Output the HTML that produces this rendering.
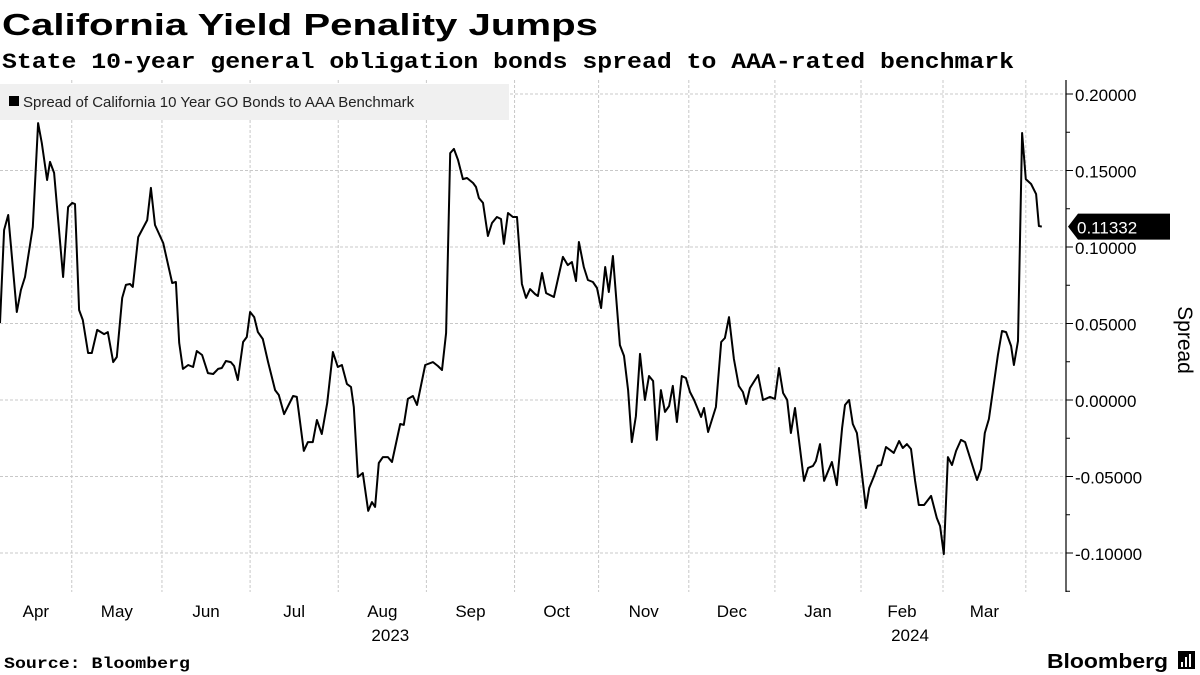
<!DOCTYPE html>
<html><head><meta charset="utf-8">
<style>
html,body{margin:0;padding:0;background:#fff;}
svg{display:block;}
</style></head>
<body>
<svg id="chart" width="1200" height="675" viewBox="0 0 1200 675" xmlns="http://www.w3.org/2000/svg">
  <text x="2" y="35" font-family="Liberation Sans, sans-serif" font-weight="bold" font-size="31" textLength="596" lengthAdjust="spacingAndGlyphs" fill="#000">California Yield Penality Jumps</text>
  <text x="2" y="68" font-family="Liberation Mono, monospace" font-weight="bold" font-size="22" textLength="1012" lengthAdjust="spacingAndGlyphs" fill="#000">State 10-year general obligation bonds spread to AAA-rated benchmark</text>
  <g id="grid"></g>
  <g id="axis"></g>
  <g id="xaxis"></g>
  <rect x="0" y="84" width="509" height="36" fill="#f0f0f0"/>
  <g>
    <rect x="9" y="96" width="10" height="10" fill="#000"/>
    <text x="23" y="107" font-family="Liberation Sans, sans-serif" font-size="15" fill="#222">Spread of California 10 Year GO Bonds to AAA Benchmark</text>
  </g>
  <g id="series"></g>
  <text transform="translate(1178,340) rotate(90)" text-anchor="middle" font-family="Liberation Sans, sans-serif" font-size="21" fill="#000">Spread</text>
  <text x="4" y="668" font-family="Liberation Mono, monospace" font-weight="bold" font-size="16" textLength="186" lengthAdjust="spacingAndGlyphs" fill="#000">Source: Bloomberg</text>
  <text x="1047" y="668" font-family="Liberation Sans, sans-serif" font-weight="bold" font-size="20" textLength="121" lengthAdjust="spacingAndGlyphs" fill="#000">Bloomberg</text>
  <g>
    <rect x="1178" y="651" width="17" height="18" fill="#000"/>
    <rect x="1181" y="662" width="2" height="5" fill="#fff"/>
    <rect x="1185" y="657" width="2" height="10" fill="#fff"/>
    <rect x="1189" y="654" width="2" height="13" fill="#fff"/>
  </g>
</svg>
<script>
// ---- data ----
const tradingDay = [0,1,2,4.1,5.1,6.1,8,9.3,10.2,11.5,12.2,13.2,15.4,16.6,17.6,18.3,19.3,20.2,21.5,22.4,23.7,25.4,26.3,27.6,28.5,29.8,30.7,31.7,32.4,33.7,35.9,36.8,37.8,39.8,42,42.9,43.7,44.6,45.9,47.1,48,49.3,50.7,52,53.2,54.1,55.1,56.3,57.1,58,59.3,60.2,61,62,62.9,64.1,65.4,67.1,68,69.3,71.5,72.4,74.1,75.1,76.3,77.3,78.5,79.8,81.2,82.4,83.4,84.6,85.6,86.3,87.3,88.5,89.8,90.7,91.5,92.4,93.4,94.6,95.6,97.6,98.5,99.5,100.7,101.7,103.7,105.6,106.8,107.8,108.8,109.8,110.7,111.7,112.9,113.9,115.4,116.1,116.8,117.8,119,120,121.2,122.2,122.9,123.9,125.1,126.1,127.3,128.3,129.3,130.5,131.2,132.2,133.2,135.1,137.3,138.5,139.5,140.5,141.2,142.4,143.4,144.6,145.6,146.6,147.6,148.5,149.5,151.2,152.2,153.2,154.1,155.1,156.1,157.3,158.3,159.3,160.2,161.2,162.2,163.2,164.1,165.1,166.3,167.3,168.3,169.3,171,171.7,172.7,174.6,175.9,176.8,177.8,179,180.2,181.2,182,182.9,184.9,186.1,187.8,189,190,191,192,192.9,193.9,196.1,197.1,198.3,199,200,201,202.9,204.1,205.4,206.1,207.1,208,209,210,211.2,212,213.2,214.1,214.9,216.1,218,219.3,220.2,221.2,222.2,223.2,224.1,225.4,227.1,228.5,229.3,230.2,231.2,232.2,233.2,234.4,235.4,238.3,239.3,240.2,241.2,243.4,244.4,245.4,246.6,247.3,248.3,249.3,250.2,251.5,252.7,253.4,254.1];
const spreadValues = [0.0503,0.1111,0.1209,0.0575,0.0719,0.0804,0.1131,0.1810,0.1680,0.1438,0.1556,0.1484,0.0804,0.1261,0.1288,0.1281,0.0588,0.0523,0.0307,0.0307,0.0458,0.0431,0.0444,0.0248,0.0281,0.0667,0.0752,0.0758,0.0739,0.1065,0.1176,0.1386,0.1144,0.1026,0.0765,0.0771,0.0373,0.0203,0.0229,0.0216,0.0320,0.0294,0.0176,0.0170,0.0203,0.0209,0.0255,0.0248,0.0222,0.0131,0.0379,0.0412,0.0575,0.0542,0.0444,0.0399,0.0248,0.0065,0.0033,-0.0092,0.0026,0.0020,-0.0333,-0.0275,-0.0275,-0.0131,-0.0222,-0.0020,0.0314,0.0216,0.0229,0.0105,0.0085,-0.0046,-0.0503,-0.0477,-0.0725,-0.0667,-0.0699,-0.0412,-0.0373,-0.0373,-0.0405,-0.0157,-0.0163,0.0007,0.0026,-0.0033,0.0229,0.0248,0.0222,0.0196,0.0438,0.1614,0.1641,0.1569,0.1444,0.1451,0.1418,0.1392,0.1320,0.1288,0.1072,0.1157,0.1196,0.1183,0.1020,0.1222,0.1196,0.1196,0.0758,0.0667,0.0725,0.0693,0.0680,0.0830,0.0699,0.0673,0.0935,0.0882,0.0902,0.0778,0.1033,0.0869,0.0784,0.0771,0.0732,0.0601,0.0869,0.0706,0.0941,0.0359,0.0288,0.0065,-0.0275,-0.0105,0.0301,0,0.0157,0.0124,-0.0261,0.0065,-0.0078,-0.0039,0.0092,-0.0144,0.0157,0.0144,0.0052,0,-0.0111,-0.0052,-0.0209,-0.0046,0.0379,0.0405,0.0542,0.0268,0.0092,0.0052,-0.0026,0.0078,0.0163,0,0.0020,0.0007,0.0209,0.0046,0,-0.0216,-0.0052,-0.0529,-0.0444,-0.0431,-0.0399,-0.0288,-0.0529,-0.0405,-0.0556,-0.0183,-0.0033,0,-0.0157,-0.0216,-0.0431,-0.0706,-0.0575,-0.0497,-0.0431,-0.0425,-0.0307,-0.0346,-0.0268,-0.0314,-0.0288,-0.0320,-0.0529,-0.0686,-0.0686,-0.0627,-0.0771,-0.0824,-0.1007,-0.0373,-0.0425,-0.0333,-0.0261,-0.0275,-0.0523,-0.0451,-0.0216,-0.0124,0.0294,0.0451,0.0444,0.0353,0.0229,0.0386,0.1745,0.1444,0.1412,0.1346,0.1137,0.11332];
const yTicks = [0.20,0.15,0.10,0.05,0.00,-0.05,-0.10];
const yTickLabels = ["0.20000","0.15000","0.10000","0.05000","0.00000","-0.05000","-0.10000"];
const yMinorTicks = [0.175,0.125,0.075,0.025,-0.025,-0.075,-0.125];
const monthStartDay = [17.5,39.5,61,82.5,104,125.5,146,168,189,210,230,250.2];
const monthLabels = ["Apr","May","Jun","Jul","Aug","Sep","Oct","Nov","Dec","Jan","Feb","Mar"];
const yearLabels = ["2023","2024"];
const yearMonthIndex = [4,10];
const lastLabel = "0.11332";

// ---- scales ----
const NS = "http://www.w3.org/2000/svg";
const AXIS_X = 1066, TOP = 80, BOTTOM = 592;
function xScale(d){ return d * 4.1; }
function yScale(v){ return 400 - v * 1530; }
function mk(tag, attrs, parent){
  const e = document.createElementNS(NS, tag);
  for (const k in attrs) e.setAttribute(k, attrs[k]);
  parent.appendChild(e);
  return e;
}
const grid = document.getElementById('grid');
const axis = document.getElementById('axis');
const xaxis = document.getElementById('xaxis');
const series = document.getElementById('series');

yTicks.forEach((t,i)=>{
  const y = yScale(t);
  const gl = mk('line',{x1:0,x2:AXIS_X,y1:y,y2:y,stroke:'#c8c8c8','stroke-width':1,'stroke-dasharray':'3,2'},grid);
  
  
  const tk = mk('line',{x1:AXIS_X,x2:AXIS_X+7,y1:y,y2:y,stroke:'#000','stroke-width':1},axis);
  
  
  const lb = mk('text',{x:AXIS_X+9,y:y+7,'font-family':'Liberation Sans, sans-serif','font-size':17,fill:'#000'},axis);
  lb.textContent = yTickLabels[i];
  
  
});
yMinorTicks.forEach(t=>{
  const y = yScale(t);
  const tk = mk('line',{x1:AXIS_X,x2:AXIS_X+4,y1:y,y2:y,stroke:'#000','stroke-width':1},axis);
  
  
});
const al = mk('line',{x1:AXIS_X,x2:AXIS_X,y1:TOP,y2:BOTTOM,stroke:'#000','stroke-width':1.2},axis);



const bounds = [0].concat(monthStartDay);
monthStartDay.forEach(d=>{
  const x = xScale(d);
  const gl = mk('line',{x1:x,x2:x,y1:TOP,y2:BOTTOM,stroke:'#c8c8c8','stroke-width':1,'stroke-dasharray':'3,2'},grid);
  
  
});
monthLabels.forEach((m,i)=>{
  const cx = (xScale(bounds[i]) + xScale(bounds[i+1]))/2;
  const t = mk('text',{x:cx,y:617,'text-anchor':'middle','font-family':'Liberation Sans, sans-serif','font-size':17,fill:'#000'},xaxis);
  t.textContent = m;
  
  
});
yearLabels.forEach((yl,i)=>{
  const mi = yearMonthIndex[i];
  const cx = (xScale(bounds[mi]) + xScale(bounds[mi+1]))/2 + 8;
  const t = mk('text',{x:cx,y:641,'text-anchor':'middle','font-family':'Liberation Sans, sans-serif','font-size':17,fill:'#000'},xaxis);
  t.textContent = yl;
  
  
});

let dstr = '';
spreadValues.forEach((v,i)=>{
  dstr += (i ? 'L' : 'M') + xScale(tradingDay[i]).toFixed(1) + ',' + yScale(v).toFixed(1);
});
const line = mk('path',{d:dstr,fill:'none',stroke:'#000','stroke-width':2,'stroke-linejoin':'round'},series);



const lastY = yScale(spreadValues[spreadValues.length-1]);
const tag = mk('path',{d:`M${AXIS_X+2},${lastY} L${AXIS_X+12},${lastY-13} L1170,${lastY-13} L1170,${lastY+13} L${AXIS_X+12},${lastY+13} Z`,fill:'#000'},series);


const tagText = mk('text',{x:1077,y:lastY+7,'font-family':'Liberation Sans, sans-serif','font-size':17,fill:'#fff'},series);
tagText.textContent = lastLabel;


</script>
</body></html>
